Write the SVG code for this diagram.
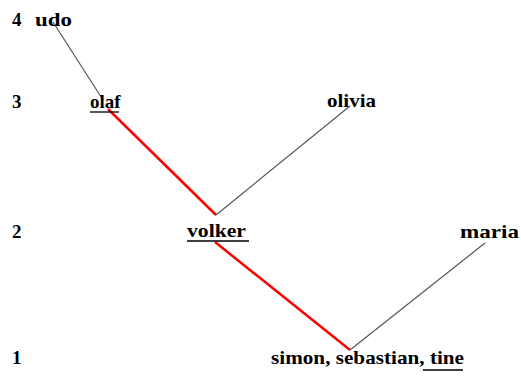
<svg xmlns="http://www.w3.org/2000/svg" width="521" height="376" viewBox="0 0 521 376" font-family="Liberation Serif, Times New Roman, serif" font-weight="bold" font-size="19">
<style>
.g{stroke:#555;stroke-width:1.2;fill:none}
.r{stroke:#f00;stroke-width:2.5;fill:none}
.u{stroke:#000;stroke-width:1.3}
</style>
<rect width="521" height="376" fill="#fff"/>
<g id="levels">
<text x="12" y="26">4</text>
<text x="12" y="108">3</text>
<text x="12" y="238">2</text>
<text x="12" y="364">1</text>
</g>
<g id="connectors">
<line class="g" x1="53" y1="22" x2="103" y2="100"/>
<line class="r" x1="108" y1="109" x2="216" y2="215"/>
<line class="g" x1="216" y1="215" x2="350" y2="106"/>
<line class="r" x1="215" y1="242" x2="350" y2="350"/>
<line class="g" x1="350" y1="350" x2="485" y2="243"/>
</g>
<g id="udo"><text x="35" y="26" textLength="37" lengthAdjust="spacingAndGlyphs">udo</text></g>
<g id="olaf"><text x="90" y="108">olaf</text><line class="u" x1="90" y1="112" x2="119" y2="112"/></g>
<g id="olivia"><text x="327" y="107" textLength="49" lengthAdjust="spacingAndGlyphs">olivia</text></g>
<g id="volker"><text x="187" y="237" textLength="59" lengthAdjust="spacingAndGlyphs">volker</text><line class="u" x1="187" y1="241" x2="249" y2="241"/></g>
<g id="maria"><text x="460" y="238" textLength="59" lengthAdjust="spacingAndGlyphs">maria</text></g>
<g id="simon"><text x="271" y="364" textLength="193" lengthAdjust="spacingAndGlyphs">simon, sebastian, tine</text><line class="u" x1="423" y1="370" x2="463" y2="370"/></g>
</svg>
